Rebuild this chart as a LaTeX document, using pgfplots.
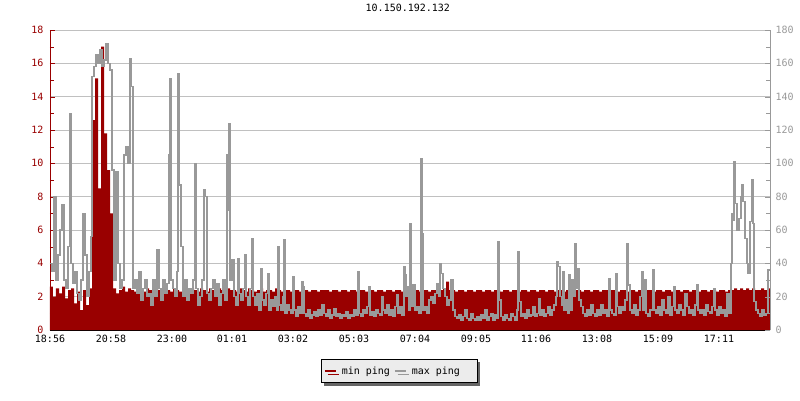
\documentclass[border=0pt]{standalone}
\usepackage{pgfplots}
\pgfplotsset{compat=1.18}
\usepackage{pgfplotstable}
\usepackage{fontspec}
\setmainfont{DejaVu Sans Mono}
\usetikzlibrary{shadows}
\definecolor{minred}{HTML}{990000}
\definecolor{maxgray}{HTML}{999999}
\definecolor{gridgray}{HTML}{C0C0C0}
\pgfplotstableread{
x min
0 2.6
6 2.0
12 2.5
18 2.2
24 2.6
30 1.9
36 2.4
42 2.5
48 1.6
54 2.3
60 1.2
66 2.4
72 1.5
78 2.5
84 12.6
90 15.1
96 8.5
102 17.0
108 11.8
114 9.6
120 7.0
126 2.5
132 2.2
138 2.4
144 2.6
150 2.3
156 2.5
162 2.4
168 2.3
174 2.5
180 2.4
186 2.3
192 2.5
198 2.4
204 2.2
210 2.5
216 2.4
222 2.3
228 2.5
234 2.4
240 2.3
246 2.5
252 2.4
258 2.3
264 2.5
270 2.4
276 2.3
282 2.5
288 2.4
294 2.3
300 2.5
306 2.4
312 2.3
318 2.5
324 2.4
330 2.3
336 2.5
342 2.4
348 2.3
354 2.5
360 2.4
366 2.4
372 2.3
378 2.5
384 2.4
390 2.3
396 2.5
402 2.4
408 2.3
414 2.4
420 2.5
426 2.3
432 2.4
438 2.4
444 2.3
450 2.5
456 2.4
462 2.3
468 2.4
474 2.4
480 2.3
486 2.4
492 2.4
498 2.3
504 2.4
510 2.4
516 2.3
522 2.4
528 2.4
534 2.3
540 2.4
546 2.4
552 2.4
558 2.3
564 2.4
570 2.4
576 2.3
582 2.4
588 2.4
594 2.3
600 2.4
606 2.4
612 2.3
618 2.4
624 2.4
630 2.3
636 2.4
642 2.4
648 2.3
654 2.4
660 2.4
666 2.3
672 2.4
678 2.4
684 2.3
690 2.4
696 2.4
702 2.3
708 2.4
714 2.4
720 2.3
726 2.4
732 2.4
738 2.3
744 2.4
750 2.4
756 2.3
762 2.4
768 2.4
774 2.3
780 2.4
786 2.5
792 2.9
798 2.4
804 2.4
810 2.3
816 2.4
822 2.4
828 2.3
834 2.4
840 2.4
846 2.3
852 2.4
858 2.4
864 2.3
870 2.4
876 2.4
882 2.3
888 2.4
894 2.4
900 2.3
906 2.4
912 2.4
918 2.3
924 2.4
930 2.4
936 2.3
942 2.4
948 2.4
954 2.3
960 2.4
966 2.4
972 2.3
978 2.4
984 2.4
990 2.3
996 2.4
1002 2.4
1008 2.3
1014 2.4
1020 2.4
1026 2.3
1032 2.4
1038 2.4
1044 2.3
1050 2.4
1056 2.4
1062 2.3
1068 2.4
1074 2.4
1080 2.3
1086 2.4
1092 2.4
1098 2.3
1104 2.4
1110 2.4
1116 2.3
1122 2.4
1128 2.4
1134 2.3
1140 2.4
1146 2.4
1152 2.3
1158 2.4
1164 2.4
1170 2.3
1176 2.4
1182 2.4
1188 2.3
1194 2.4
1200 2.4
1206 2.3
1212 2.4
1218 2.4
1224 2.3
1230 2.4
1236 2.4
1242 2.3
1248 2.4
1254 2.4
1260 2.3
1266 2.4
1272 2.4
1278 2.3
1284 2.4
1290 2.4
1296 2.3
1302 2.4
1308 2.4
1314 2.3
1320 2.4
1326 2.4
1332 2.3
1338 2.4
1344 2.4
1350 2.3
1356 2.4
1362 2.4
1368 2.5
1374 2.4
1380 2.5
1386 2.4
1392 2.5
1398 2.4
1404 2.5
1410 2.4
1416 2.4
1422 2.5
1428 2.4
1434 2.5
1440 2.5
}\mindata
\begin{document}
\begin{tikzpicture}
\path[use as bounding box] (-50pt,-70pt) rectangle (750pt,330pt);
\begin{axis}[
  at={(0pt,0pt)}, anchor=south west,
  width=720pt, height=300pt, scale only axis,
  xmin=0, xmax=1440, ymin=0, ymax=18,
  axis x line*=bottom, axis y line*=left,
  x axis line style={black,-},
  y axis line style={minred,-},
  xtick={0,122,244,364,486,608,730,852,972,1094,1216,1338},
  xticklabels={18:56,20:58,23:00,01:01,03:02,05:03,07:04,09:05,11:06,13:08,15:09,17:11},
  ytick={0,2,...,18},
  minor y tick num=1,
  tick align=inside,
  major tick length=5pt, minor tick length=4pt,
  xtick style={black},
  ytick style={minred},
  ymajorgrids, grid style={gridgray, line width=1pt},
  /pgf/number format/assume math mode=true,
  tick label style={font=\fontsize{10}{12}\selectfont},
  yticklabel style={minred, xshift=-3pt},
  xticklabel style={black, yshift=-2pt},
  title={10.150.192.132},
  title style={at={(0.497,1)}, anchor=center, yshift=16pt, font=\fontsize{10}{12}\selectfont},
  legend style={at={(0.4847,-0.1367)}, anchor=center, draw=black, fill=gray!15,
    font=\fontsize{10}{12}\selectfont, legend columns=2,
    inner xsep=3pt, inner ysep=5pt,
    drop shadow={shadow xshift=3pt, shadow yshift=-3pt, fill=black!60, opacity=1},
    /tikz/every even column/.append style={column sep=2pt}},
  legend image code/.code={\draw[#1, line width=1.8pt] (0pt,0pt) -- (11pt,0pt);},
]
\addplot[const plot, fill=minred, draw=none, forget plot] table[x=x, y=min] {\mindata} \closedcycle;
\addlegendimage{minred}
\addlegendentry{\hspace*{3pt}min ping}
\addlegendimage{maxgray}
\addlegendentry{\hspace*{3pt}max ping\hspace*{12pt}}
\end{axis}
\begin{axis}[
  at={(0pt,0pt)}, anchor=south west,
  width=720pt, height=300pt, scale only axis,
  xmin=0, xmax=1440, ymin=0, ymax=180,
  axis x line=none, axis y line*=right,
  y axis line style={maxgray,-},
  ytick={0,20,...,180},
  minor y tick num=1,
  tick align=inside,
  major tick length=5pt, minor tick length=4pt,
  ytick style={maxgray},
  /pgf/number format/assume math mode=true,
  tick label style={font=\fontsize{10}{12}\selectfont},
  yticklabel style={maxgray, xshift=2pt},
]
\addplot[const plot, color=maxgray, line width=1.2pt] coordinates {
(0,40)(4,35)(8,80)(12,30)(16,45)(20,60)(24,75)(28,30)(32,25)(36,50)(40,130)(42,40)(46,28)(50,35)(54,22)(58,18)(62,30)(66,70)(70,45)(74,20)(78,35)(82,56)
(84,152)(88,158)(92,165)(96,160)(100,168)(104,158)(108,162)(112,172)(116,160)(120,156)
(124,96)(128,30)(132,95)(136,40)(140,25)(144,30)(148,105)(152,110)(156,100)(160,163)(162,146)(166,25)(170,30)(174,22)(178,35)(182,18)(186,25)(190,30)(194,20)(198,22)
(202,15)(206,30)(210,20)(214,48)(218,25)(222,18)(226,30)(230,22)(234,28)(238,105)(240,151)(242,30)(246,25)(250,20)(254,35)(256,154)(258,87)(262,50)(266,20)(270,30)
(274,18)(278,25)(282,22)(286,30)(290,100)(292,25)(296,15)(300,20)(304,30)(308,84)(310,80)(314,22)(318,18)(322,25)(326,30)(330,20)(334,28)(338,15)(342,22)(346,30)
(350,18)(354,105)(356,72)(358,124)(360,30)(364,42)(368,20)(372,15)(376,43)(378,22)(382,18)(386,25)(390,45)(392,20)(396,15)(400,25)(404,55)(406,20)(410,15)(414,22)
(418,12)(422,37)(424,18)(428,15)(432,22)(436,34)(438,12)(442,18)(446,14)(450,20)(454,12)(456,50)(458,15)(462,12)(466,20)(468,54)(470,10)(474,15)(478,12)(482,10)
(486,32)(488,12)(492,8)(496,14)(500,10)(504,29)(506,26)(508,10)(512,8)(516,12)(520,7)(524,9)(528,11)(532,8)(536,12)(540,9)(544,15)(548,10)(552,8)(556,12)
(560,7)(564,9)(568,13)(572,8)(576,10)(580,7)(584,9)(588,8)(592,11)(596,7)(600,9)(604,8)(608,12)(612,9)(616,35)(618,10)(622,8)(626,12)(630,10)(634,14)
(638,26)(640,9)(644,11)(648,8)(652,12)(656,10)(660,9)(664,20)(666,12)(670,10)(674,15)(678,9)(682,12)(686,8)(690,14)(694,21)(696,10)(700,14)(704,9)(708,38)
(710,33)(712,20)(716,26)(718,12)(720,64)(722,14)(726,27)(730,12)(734,14)(738,10)(742,103)(744,58)(746,12)(750,14)(754,10)(758,18)(762,20)(766,16)(770,22)(774,28)
(778,20)(780,40)(782,34)(786,25)(790,20)(794,15)(798,18)(802,30)(806,12)(810,8)(814,7)(818,9)(822,6)(826,8)(830,12)(834,7)(838,6)(842,10)(846,7)(850,6)
(854,8)(858,6)(862,9)(866,7)(870,12)(874,6)(878,8)(882,10)(886,6)(890,9)(894,7)(896,53)(898,18)(902,8)(906,6)(910,9)(914,7)(918,6)(922,10)(926,8)
(930,6)(934,12)(936,47)(938,17)(942,8)(946,10)(950,7)(954,12)(958,8)(962,9)(966,14)(970,8)(974,10)(978,19)(980,9)(984,12)(988,8)(992,10)(996,14)(1000,9)
(1004,12)(1008,15)(1012,20)(1014,41)(1016,38)(1020,20)(1024,15)(1026,35)(1028,12)(1032,18)(1036,10)(1038,33)(1040,12)(1044,30)(1048,20)(1050,52)(1052,25)(1056,37)(1058,18)(1062,14)
(1066,10)(1070,8)(1074,12)(1078,9)(1082,15)(1086,10)(1090,8)(1094,12)(1098,9)(1102,15)(1106,10)(1110,12)(1114,8)(1118,31)(1120,12)(1124,10)(1128,9)(1132,34)(1134,14)(1138,10)
(1142,14)(1146,12)(1150,18)(1154,52)(1156,27)(1160,12)(1164,10)(1168,15)(1172,9)(1176,12)(1180,20)(1184,35)(1186,12)(1190,30)(1192,10)(1196,8)(1200,12)(1206,36)(1208,12)(1212,10)
(1216,14)(1220,9)(1224,18)(1228,12)(1232,10)(1236,20)(1240,9)(1244,14)(1248,26)(1250,12)(1254,10)(1258,15)(1262,12)(1266,9)(1270,22)(1274,14)(1278,10)(1282,12)(1286,9)(1290,15)
(1294,27)(1296,12)(1300,10)(1304,12)(1308,9)(1312,15)(1316,11)(1320,10)(1324,14)(1328,25)(1330,12)(1334,9)(1338,14)(1342,10)(1346,12)(1350,8)(1354,22)(1358,10)(1362,40)(1364,70)
(1366,66)(1368,101)(1370,76)(1374,60)(1378,67)(1382,80)(1384,87)(1386,77)(1390,55)(1394,40)(1396,34)(1400,65)(1404,90)(1406,64)(1408,17)(1412,12)(1416,10)(1420,8)(1424,12)(1428,9)
(1432,10)(1436,36)(1440,36)
};
\end{axis}
\end{tikzpicture}
\end{document}
